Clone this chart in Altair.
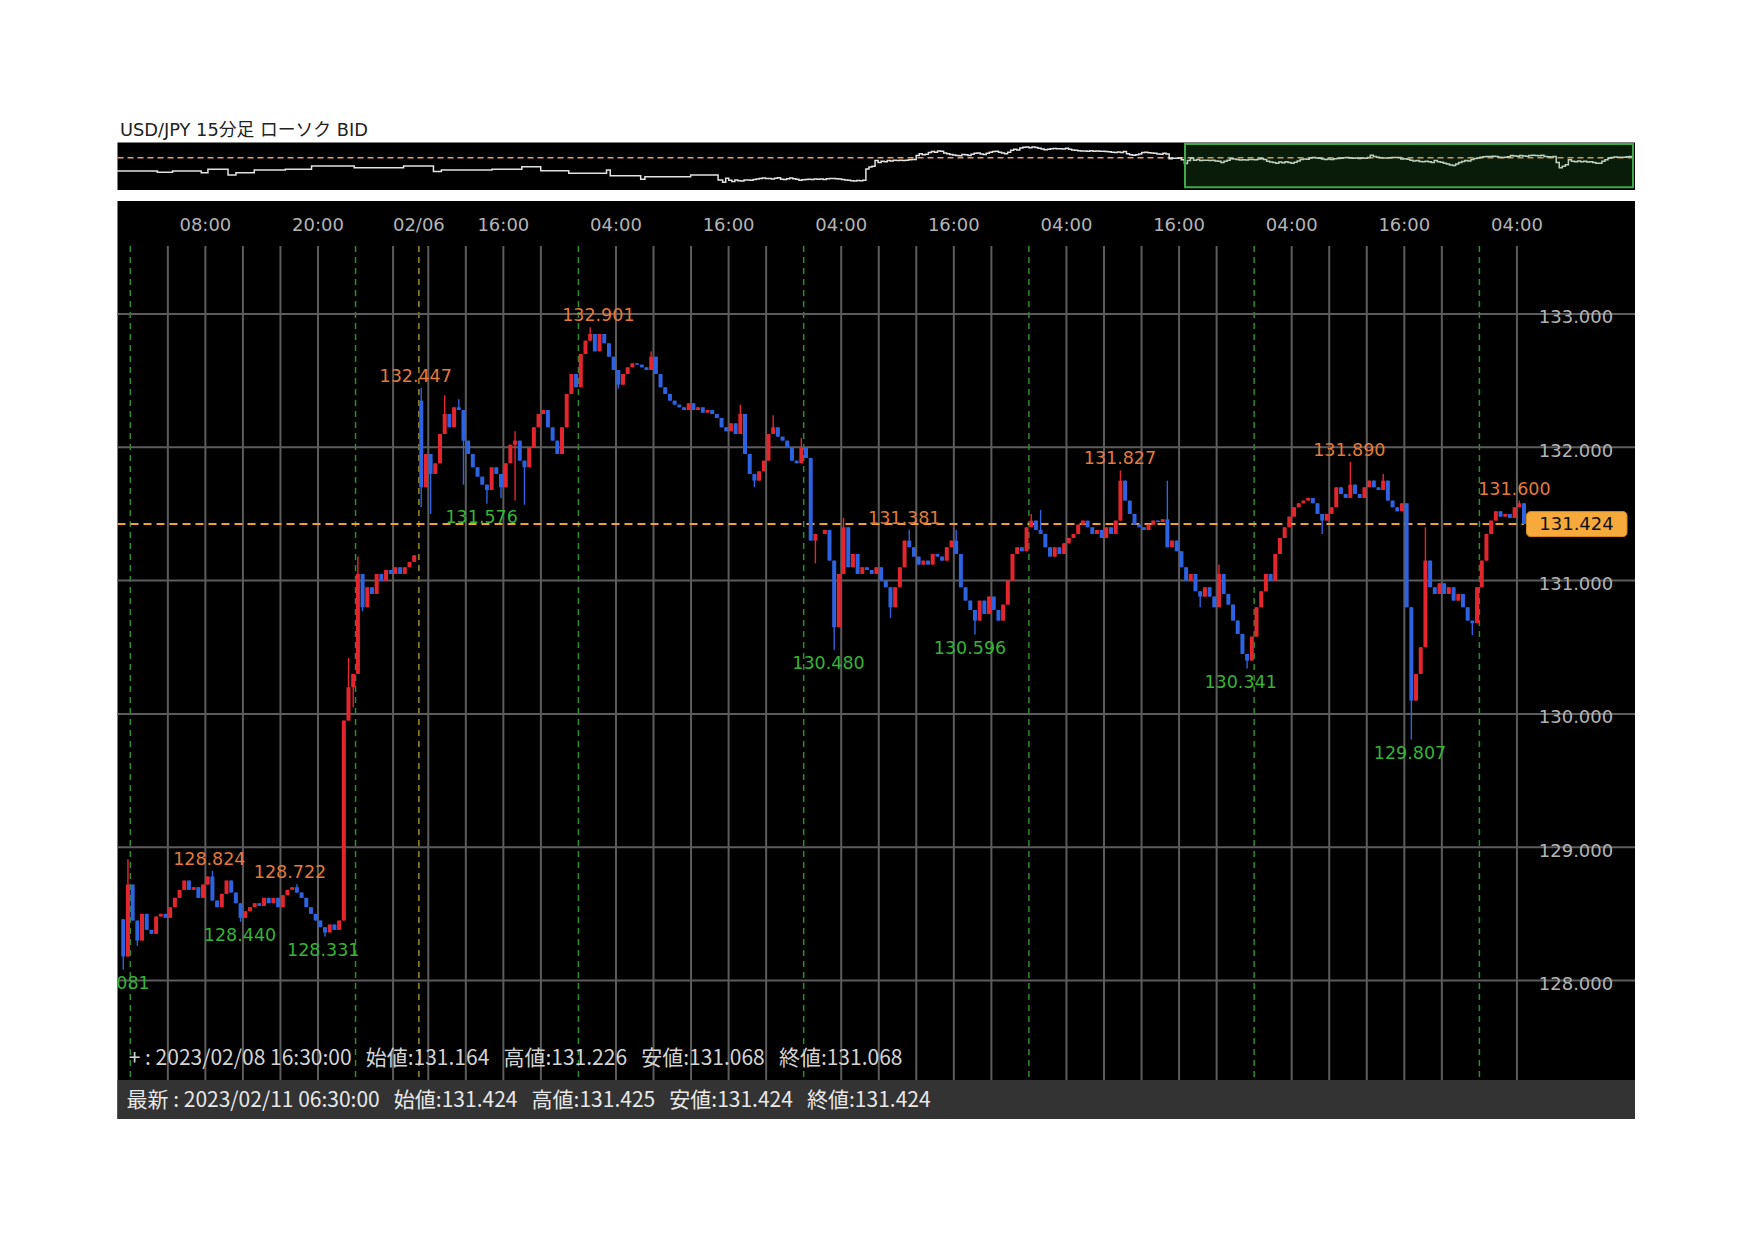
import altair as alt
import pandas as pd
import numpy as np

# ---------------- data ----------------
# 30-minute closes, Friday 02/03 session (h = hours from Fri 00:00, compressed trading time)
fri_h0 = -1.0
fri_open = 128.46
fri_close = [128.18, 128.72, 128.45, 128.30, 128.50, 128.38, 128.35, 128.48, 128.50, 128.47,
             128.55, 128.62, 128.68, 128.75, 128.68, 128.70, 128.62, 128.72, 128.78, 128.60,
             128.55, 128.65, 128.75, 128.66, 128.58, 128.47, 128.52, 128.55, 128.58, 128.56,
             128.62, 128.58, 128.62, 128.55, 128.64, 128.68, 128.70, 128.66, 128.62, 128.55,
             128.50, 128.45, 128.40, 128.36, 128.42, 128.38, 128.45, 129.95, 130.20, 130.30,
             131.05, 130.80, 130.95, 130.90, 131.05, 131.00, 131.08, 131.05, 131.10, 131.05,
             131.10, 131.14, 131.19]
# Monday 02/06 07:00 onward
mon_h0 = 30.75
mon_open = 132.35
mon_close = [131.70, 131.95, 131.80, 131.88, 132.10, 132.25, 132.15, 132.30, 132.28, 132.05,
             131.95, 131.85, 131.78, 131.72, 131.68, 131.85, 131.80, 131.70, 131.88, 132.02,
             132.05, 131.90, 131.85, 132.00, 132.15, 132.25, 132.28, 132.15, 132.05, 131.95,
             132.15, 132.40, 132.55, 132.45, 132.70, 132.80, 132.85, 132.72, 132.85, 132.78,
             132.68, 132.58, 132.47, 132.55, 132.60, 132.63, 132.62, 132.60, 132.58, 132.68,
             132.55, 132.45, 132.40, 132.35, 132.32, 132.30, 132.28, 132.33, 132.28, 132.30,
             132.26, 132.28, 132.25, 132.22, 132.15, 132.12, 132.18, 132.10, 132.25, 131.95,
             131.80, 131.75, 131.82, 131.90, 132.10, 132.15, 132.08, 132.05, 132.00, 131.90,
             131.88, 132.00, 131.92, 131.30, 131.35, 131.35, 131.38, 131.15, 130.65, 131.05,
             131.40, 131.10, 131.20, 131.05, 131.10, 131.08, 131.05, 131.10, 131.00, 130.95,
             130.80, 130.95, 131.10, 131.30, 131.25, 131.18, 131.12, 131.15, 131.12, 131.20,
             131.18, 131.15, 131.25, 131.30, 131.20, 130.95, 130.85, 130.78, 130.70, 130.85,
             130.75, 130.88, 130.78, 130.70, 130.82, 131.00, 131.20, 131.25, 131.22, 131.40,
             131.45, 131.38, 131.35, 131.25, 131.18, 131.25, 131.20, 131.28, 131.32, 131.35,
             131.42, 131.45, 131.40, 131.35, 131.38, 131.32, 131.40, 131.35, 131.45, 131.75,
             131.60, 131.50, 131.42, 131.40, 131.38, 131.42, 131.45, 131.44, 131.46, 131.25,
             131.30, 131.22, 131.10, 131.00, 131.05, 130.92, 130.88, 130.95, 130.88, 130.80,
             131.05, 130.90, 130.82, 130.70, 130.60, 130.45, 130.40, 130.58, 130.80, 130.92,
             131.05, 131.00, 131.20, 131.32, 131.40, 131.48, 131.55, 131.58, 131.60, 131.62,
             131.58, 131.50, 131.45, 131.50, 131.55, 131.70, 131.65, 131.62, 131.72, 131.65,
             131.62, 131.70, 131.75, 131.70, 131.68, 131.75, 131.60, 131.55, 131.52, 131.58,
             130.80, 130.10, 130.30, 130.50, 131.15, 130.95, 130.90, 130.98, 130.90, 130.95,
             130.85, 130.90, 130.80, 130.70, 130.68, 130.95, 131.15, 131.35, 131.45, 131.52,
             131.48, 131.50, 131.47, 131.55, 131.58, 131.424]
# wick extremes (candle start hour, price)
spike_h = [-1.0, -0.5, 0.5, 8.5, 11.5, 17.5, 20.5, 23.0, 23.5, 24.0, 24.5,
           30.75, 30.75, 31.75, 33.25, 34.75, 35.25, 37.75, 39.25, 40.75, 40.75, 41.75,
           48.75, 51.75, 55.25, 64.75, 66.25, 68.25, 71.25, 72.75, 74.75, 75.75, 80.75,
           82.75, 87.75, 89.75, 95.75, 96.75, 105.25, 110.25, 113.75, 115.75, 118.75,
           126.75, 129.75, 133.25, 136.25, 137.75, 142.75, 147.75]
spike_p = [128.081, 128.91, 128.26, 128.824, 128.44, 128.722, 128.331, 130.42, 130.05, 131.18, 130.77,
           132.447, 131.55, 131.50, 132.39, 132.36, 131.72, 131.576, 131.62, 132.12, 131.60, 131.57,
           132.901, 132.44, 132.72, 132.32, 131.70, 132.24, 132.07, 131.13, 130.48, 131.47, 130.72,
           131.381, 131.38, 130.596, 131.50, 131.53, 131.827, 131.75, 130.80, 131.12, 130.341,
           131.35, 131.89, 131.80, 129.807, 131.40, 130.59, 131.60]

# high / low annotations
label_h = [8.42, 17.02, 30.41, 49.87, 82.47, 105.45, 129.89, 147.48,
           -1.79, 11.69, 20.56, 37.44, 74.4, 89.47, 118.31, 136.36]
label_p = [128.824, 128.722, 132.447, 132.901, 131.381, 131.827, 131.890, 131.600,
           128.081, 128.440, 128.331, 131.576, 130.480, 130.596, 130.341, 129.807]
label_kind = ["high"] * 8 + ["low"] * 8

# time axis
time_label = ["08:00", "20:00", "02/06", "16:00", "04:00", "16:00", "04:00", "16:00",
              "04:00", "16:00", "04:00", "16:00", "04:00"]
time_label_h = [8, 20, 30.75, 39.75, 51.75, 63.75, 75.75, 87.75, 99.75, 111.75, 123.75, 135.75, 147.75]
grid_day_h = [0, 24, 47.75, 71.75, 95.75, 119.75, 143.75]
grid_week_h = [30.75]
grid_solid_h = [4, 8, 12, 16, 20, 28] + [h for h in np.arange(31.75, 148, 4) if (h - 47.75) % 24 != 0]
price_ticks = [128, 129, 130, 131, 132, 133]
price_tick_label = ["128.000", "129.000", "130.000", "131.000", "132.000", "133.000"]

# overview (navigator) line before the main range
ov_pre_h = [-100.1, -95.2, -93.5, -91.0, -87.0, -86.3, -85.2, -82.6, -81.9, -80.6,
            -78.1, -77.6, -73.9, -72.5, -68.8, -68.2, -61.4, -61.2, -53.7, -53.1,
            -48.8, -48.2, -46.9, -38.7, -38.6, -34.3, -33.7, -31.1, -30.6, -26.2,
            -26.0, -19.9, -19.8, -19.2, -14.8, -14.2, -13.5, -7.3, -6.0, -3.0, -1.5]
ov_pre_p = [129.67, 129.67, 129.50, 129.67, 129.67, 129.45, 129.90, 129.90, 129.15, 129.45,
            129.45, 129.80, 129.80, 129.90, 129.90, 130.33, 130.33, 130.10, 130.10, 130.33,
            130.33, 129.60, 129.80, 129.80, 129.90, 129.90, 130.24, 130.24, 129.70, 129.70,
            129.37, 129.37, 129.80, 129.05, 129.05, 128.60, 128.92, 128.92, 129.15, 129.15, 128.50]

last_price = 131.424
title_text = "USD/JPY 15分足 ローソク BID"
NB = "\u00a0\u00a0\u00a0"
cross_text = NB.join(["+ : 2023/02/08 16:30:00", "始値:131.164", "高値:131.226", "安値:131.068", "終値:131.068"])
status_text = NB.join(["最新 : 2023/02/11 06:30:00", "始値:131.424", "高値:131.425", "安値:131.424", "終値:131.424"])

# ---------------- build tables ----------------
rows = []
for h0, op, closes in [(fri_h0, fri_open, fri_close), (mon_h0, mon_open, mon_close)]:
    prev = op
    for i, c in enumerate(closes):
        t = h0 + 0.5 * i
        rows.append(dict(t=t, h=t + 0.25, o=prev, c=c, hi=max(prev, c), lo=min(prev, c)))
        prev = c
cdf = pd.DataFrame(rows)
for sh, sp in zip(spike_h, spike_p):
    m = (cdf.t - sh).abs() < 1e-6
    cdf.loc[m, "hi"] = np.maximum(cdf.loc[m, "hi"], sp)
    cdf.loc[m, "lo"] = np.minimum(cdf.loc[m, "lo"], sp)
cdf["dir"] = np.where(cdf.c >= cdf.o, "up", "down")

lab = pd.DataFrame(dict(h=label_h, p=label_p, kind=label_kind,
                        txt=[f"{v:.3f}" for v in label_p]))
tl = pd.DataFrame(dict(h=time_label_h, txt=time_label))
pt = pd.DataFrame(dict(p=price_ticks, txt=price_tick_label))
ov = pd.concat([pd.DataFrame(dict(h=ov_pre_h, p=ov_pre_p)),
                cdf[["h", "c"]].rename(columns={"c": "p"})], ignore_index=True)
lp = pd.DataFrame(dict(p=[last_price], txt=[f"{last_price:.3f}"]))
one = pd.DataFrame(dict(a=[0]))

# ---------------- geometry (view = main black panel) ----------------
W, H = 1517.5, 918
XS = alt.Scale(domain=[-1.3639, 160.3303], range=[0, W], nice=False, zero=False)
YS = alt.Scale(domain=[126.961, 133.8477], range=[H, 0], nice=False, zero=False)
OXS = alt.Scale(domain=[-100, 148.6], range=[0.2, 1515.5], nice=False, zero=False)
OYS = alt.Scale(domain=[127.17, 133.4], range=[-10.97, -58.3], nice=False, zero=False)

FONT = "DejaVu Sans, Noto Sans CJK JP"
JFONT = "Noto Sans CJK JP"
RED, BLUE = "#e3262e", "#2d63e0"
GRID = "#5c5c5c"

def X(f="h:Q"):
    return alt.X(f, scale=XS, axis=None)

def Y(f="p:Q"):
    return alt.Y(f, scale=YS, axis=None)

base_one = alt.Chart(one)

# overview
ov_bg = base_one.mark_rect(color="#000000").encode(
    x=alt.value(0), x2=alt.value(W), y=alt.value(-58.5), y2=alt.value(-11))
ov_dash = alt.Chart(lp).mark_rule(color="#e8a060", strokeWidth=1.5, strokeDash=[6, 4]).encode(
    y=alt.Y("p:Q", scale=OYS, axis=None), x=alt.value(0), x2=alt.value(W))
ov_line = alt.Chart(ov).mark_line(color="#e2e2e2", strokeWidth=1.5, interpolate="step-after").encode(
    x=alt.X("h:Q", scale=OXS, axis=None), y=alt.Y("p:Q", scale=OYS, axis=None), order="h:Q")
ov_win = base_one.mark_rect(fill="#2f8a2f", fillOpacity=0.2, stroke="#3fa84a", strokeWidth=2).encode(
    x=alt.value(1067.5), x2=alt.value(1515.5), y=alt.value(-57), y2=alt.value(-13.7))
title = base_one.mark_text(text=title_text, font=FONT, fontSize=17.8, color="#222222",
                           align="left", baseline="middle").encode(
    x=alt.value(2.5), y=alt.value(-70))

# main panel
panel = base_one.mark_rect(color="#000000").encode(
    x=alt.value(0), x2=alt.value(W), y=alt.value(0), y2=alt.value(H))
vgrid = alt.Chart(pd.DataFrame(dict(h=grid_solid_h))).mark_rule(color=GRID, strokeWidth=2).encode(
    x=X(), y=alt.value(45), y2=alt.value(879))
vday = alt.Chart(pd.DataFrame(dict(h=grid_day_h))).mark_rule(
    color="#2e8b2e", strokeWidth=1.5, strokeDash=[6, 5]).encode(x=X(), y=alt.value(45), y2=alt.value(879))
vweek = alt.Chart(pd.DataFrame(dict(h=grid_week_h))).mark_rule(
    color="#9b8c2a", strokeWidth=1.5, strokeDash=[6, 5]).encode(x=X(), y=alt.value(45), y2=alt.value(879))
hgrid = alt.Chart(pt).mark_rule(color=GRID, strokeWidth=2).encode(
    y=Y(), x=alt.value(0), x2=alt.value(W))
ylab = alt.Chart(pt).mark_text(font=FONT, fontSize=18, color="#b4b4b4", align="center",
                               baseline="middle", dy=4.5).encode(
    y=Y(), x=alt.value(1458.5), text="txt:N")
tlab = alt.Chart(tl).mark_text(font=FONT, fontSize=18, color="#b4b4b4", align="center",
                               baseline="middle").encode(
    x=X(), y=alt.value(25), text="txt:N")
pline = alt.Chart(lp).mark_rule(color="#f0a030", strokeWidth=2, strokeDash=[8, 5]).encode(
    y=Y(), x=alt.value(0), x2=alt.value(1406.5))

cscale = alt.Scale(domain=["up", "down"], range=[RED, BLUE])
wick = alt.Chart(cdf).mark_rule(strokeWidth=1.4).encode(
    x=X(), y=Y("lo:Q"), y2="hi:Q", color=alt.Color("dir:N", scale=cscale, legend=None))
body = alt.Chart(cdf).mark_rule(strokeWidth=4.0).encode(
    x=X(), y=Y("o:Q"), y2="c:Q", color=alt.Color("dir:N", scale=cscale, legend=None))

hi_lab = alt.Chart(lab[lab.kind == "high"]).mark_text(
    font=FONT, fontSize=17.5, color="#e47a3a", align="center", baseline="middle", dy=-11, clip=True).encode(
    x=X(), y=Y(), text="txt:N")
lo_lab = alt.Chart(lab[lab.kind == "low"]).mark_text(
    font=FONT, fontSize=17.5, color="#36b336", align="center", baseline="middle", dy=14.5, clip=True).encode(
    x=X(), y=Y(), text="txt:N")

pbox = alt.Chart(lp).mark_rect(fill="#f7aa3c", stroke="#d98a1e", strokeWidth=1, cornerRadius=4,
                               yOffset=-12.5, y2Offset=12.5).encode(
    y=Y(), y2="p:Q", x=alt.value(1409), x2=alt.value(1509.5))
ptext = alt.Chart(lp).mark_text(font=FONT, fontSize=18, color="#111111", align="center",
                                baseline="middle", dy=1).encode(
    y=Y(), x=alt.value(1459), text="txt:N")

status_bg = base_one.mark_rect(color="#333333").encode(
    x=alt.value(0), x2=alt.value(W), y=alt.value(879), y2=alt.value(H))
cross = base_one.mark_text(text=cross_text, font=JFONT, fontSize=21, color="#d4d4d4",
                           align="left", baseline="middle").encode(x=alt.value(11.2), y=alt.value(858))
status = base_one.mark_text(text=status_text, font=JFONT, fontSize=21, color="#e8e8e8",
                            align="left", baseline="middle").encode(x=alt.value(9), y=alt.value(900))

chart = alt.layer(
    ov_bg, ov_dash, ov_line, ov_win, title,
    panel, vgrid, vday, vweek, hgrid, ylab, tlab, pline, wick, body, hi_lab, lo_lab,
    pbox, ptext, status_bg, cross, status,
).resolve_scale(x="independent", y="independent").properties(
    width=W, height=H,
    padding={"left": 109.5, "top": 193, "right": 104, "bottom": 106},
    autosize=alt.AutoSizeParams(type="none"),
    background="#ffffff",
).configure_view(strokeWidth=0)

chart.save("out.html", embed_options={"renderer": "svg", "actions": False})
